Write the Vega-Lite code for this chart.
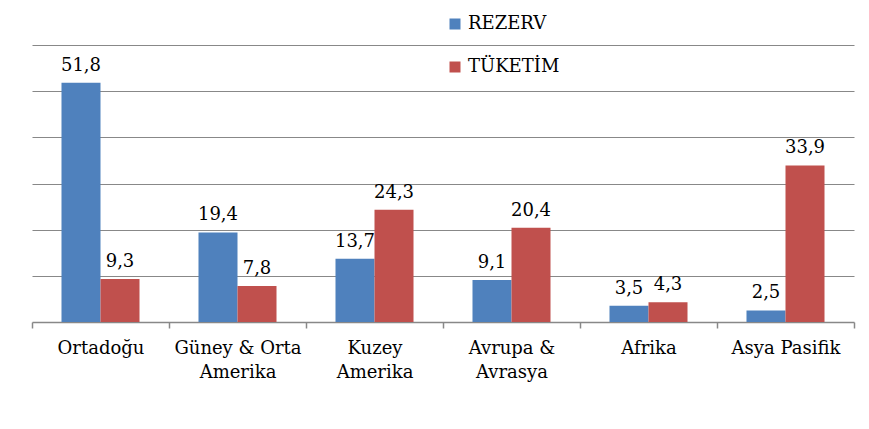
{
  "$schema": "https://vega.github.io/schema/vega-lite/v6.json",
  "autosize": {"type": "none"},
  "padding": {"left": 32, "top": 45, "right": 15, "bottom": 107},
  "width": 822,
  "height": 277,
  "background": "white",
  "config": {
    "view": {"stroke": null},
    "font": "DejaVu Serif",
    "axisX": {"ticks": true, "tickSize": 6, "tickColor": "#888888", "tickWidth": 1.5},
    "locale": {"number": {"decimal": ",", "thousands": ".", "grouping": [3], "currency": ["", " TL"]}}
  },
  "data": {
    "values": [
      {"bolge": "Ortadoğu", "seri": "REZERV", "deger": 51.8},
      {"bolge": "Ortadoğu", "seri": "TÜKETİM", "deger": 9.3},
      {"bolge": "Güney & Orta Amerika", "seri": "REZERV", "deger": 19.4},
      {"bolge": "Güney & Orta Amerika", "seri": "TÜKETİM", "deger": 7.8},
      {"bolge": "Kuzey Amerika", "seri": "REZERV", "deger": 13.7},
      {"bolge": "Kuzey Amerika", "seri": "TÜKETİM", "deger": 24.3},
      {"bolge": "Avrupa & Avrasya", "seri": "REZERV", "deger": 9.1},
      {"bolge": "Avrupa & Avrasya", "seri": "TÜKETİM", "deger": 20.4},
      {"bolge": "Afrika", "seri": "REZERV", "deger": 3.5},
      {"bolge": "Afrika", "seri": "TÜKETİM", "deger": 4.3},
      {"bolge": "Asya Pasifik", "seri": "REZERV", "deger": 2.5},
      {"bolge": "Asya Pasifik", "seri": "TÜKETİM", "deger": 33.9}
    ]
  },
  "encoding": {
    "x": {
      "field": "bolge",
      "type": "nominal",
      "sort": null,
      "scale": {"paddingInner": 0, "paddingOuter": 0},
      "axis": {
        "title": null,
        "labelAngle": 0,
        "labelFont": "DejaVu Serif",
        "labelFontSize": 18,
        "labelColor": "black",
        "labelPadding": 11,
        "labelLineHeight": 24,
        "labelExpr": "datum.label == 'Güney & Orta Amerika' ? ['Güney & Orta', 'Amerika'] : datum.label == 'Kuzey Amerika' ? ['Kuzey', 'Amerika'] : datum.label == 'Avrupa & Avrasya' ? ['Avrupa &', 'Avrasya'] : datum.label",
        "tickBand": "extent",
        "domainColor": "#888888",
        "domainWidth": 1.5,
        "grid": false
      }
    },
    "xOffset": {"field": "seri", "type": "nominal", "scale": {"paddingInner": 0, "paddingOuter": 0.756}},
    "y": {
      "field": "deger",
      "type": "quantitative",
      "scale": {"domain": [0, 60], "nice": false},
      "axis": {
        "title": null,
        "labels": false,
        "ticks": false,
        "domain": false,
        "values": [10, 20, 30, 40, 50, 60],
        "gridColor": "#888888",
        "gridWidth": 1.2
      }
    }
  },
  "layer": [
    {
      "mark": {"type": "bar"},
      "encoding": {
        "color": {
          "field": "seri",
          "type": "nominal",
          "scale": {"domain": ["REZERV", "TÜKETİM"], "range": ["#4F81BD", "#C0504D"]},
          "legend": {
            "title": null,
            "orient": "none",
            "legendX": 414,
            "legendY": -30,
            "direction": "vertical",
            "symbolType": "square",
            "symbolSize": 121,
            "symbolStrokeWidth": 0,
            "labelFont": "DejaVu Serif",
            "labelFontSize": 18,
            "labelColor": "black",
            "labelOffset": 4,
            "rowPadding": 25
          }
        }
      }
    },
    {
      "mark": {"type": "text", "baseline": "alphabetic", "dy": -12, "fontSize": 18, "font": "DejaVu Serif", "color": "black"},
      "encoding": {
        "text": {"field": "deger", "type": "quantitative", "format": ".1f"}
      }
    }
  ]
}
